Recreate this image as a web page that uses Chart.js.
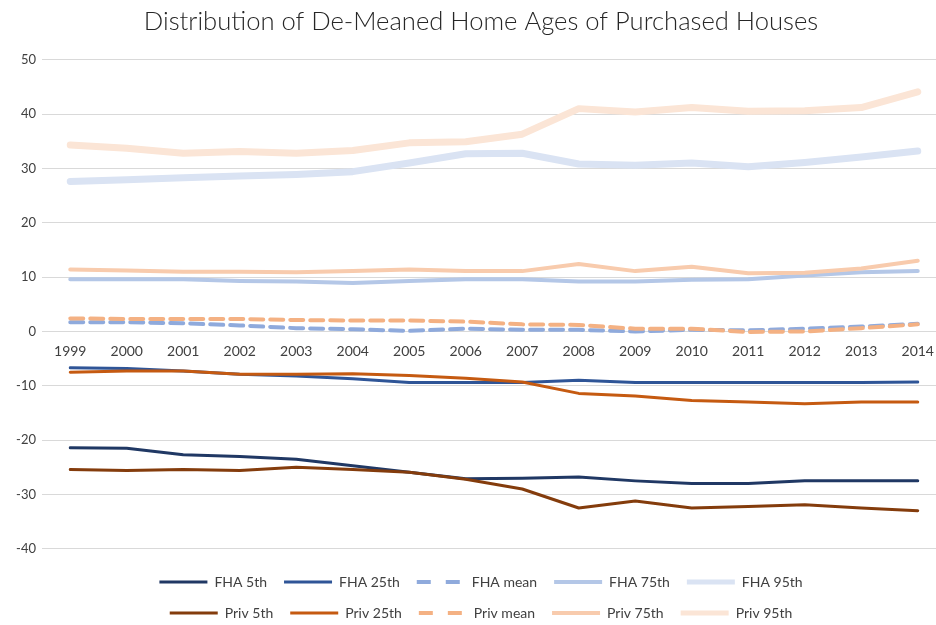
<!DOCTYPE html>
<html>
<head>
<meta charset="utf-8">
<script src="https://cdn.jsdelivr.net/npm/chart.js@4/dist/chart.umd.min.js"></script>
<style>
  html, body { margin: 0; padding: 0; background: #fff; overflow: hidden; }
  #wrap { width: 946px; height: 625px; }
</style>
</head>
<body>
<div id="wrap"><canvas id="grafico" width="946" height="625"></canvas></div>
<script>
const anos = ['1999', '2000', '2001', '2002', '2003', '2004', '2005', '2006', '2007', '2008', '2009', '2010', '2011', '2012', '2013', '2014']

const fha5 = [-21.4, -21.5, -22.7, -23.0, -23.5, -24.7, -25.9, -27.1, -27.0, -26.8, -27.5, -28.0, -28.0, -27.5, -27.5, -27.5]
const fha25 = [-6.7, -6.8, -7.3, -7.9, -8.2, -8.7, -9.4, -9.4, -9.4, -9.0, -9.4, -9.4, -9.4, -9.4, -9.4, -9.3]
const fhaMean = [1.7, 1.7, 1.5, 1.1, 0.6, 0.4, 0.1, 0.5, 0.3, 0.3, 0.0, 0.3, 0.2, 0.5, 0.9, 1.4]
const fha75 = [9.6, 9.6, 9.6, 9.3, 9.2, 8.9, 9.3, 9.6, 9.6, 9.2, 9.2, 9.5, 9.6, 10.3, 10.9, 11.1]
const fha95 = [27.6, 27.9, 28.3, 28.6, 28.9, 29.4, 31.0, 32.7, 32.8, 30.8, 30.6, 31.0, 30.3, 31.1, 32.1, 33.2]

const priv5 = [-25.4, -25.6, -25.4, -25.6, -25.0, -25.4, -25.9, -27.2, -29.0, -32.5, -31.2, -32.5, -32.2, -31.9, -32.5, -33.0]
const priv25 = [-7.5, -7.3, -7.3, -7.9, -7.9, -7.8, -8.1, -8.6, -9.3, -11.4, -11.9, -12.7, -13.0, -13.3, -13.0, -13.0]
const privMean = [2.4, 2.3, 2.3, 2.3, 2.1, 2.0, 2.0, 1.8, 1.3, 1.2, 0.5, 0.5, -0.1, 0.0, 0.6, 1.3]
const priv75 = [11.4, 11.2, 11.0, 11.0, 10.9, 11.1, 11.4, 11.1, 11.1, 12.4, 11.1, 11.9, 10.7, 10.8, 11.6, 13.0]
const priv95 = [34.3, 33.7, 32.8, 33.1, 32.8, 33.3, 34.7, 34.9, 36.3, 41.0, 40.4, 41.2, 40.5, 40.6, 41.2, 44.1]

const series = [
    ['FHA 5th', fha5, '#203864', 3, null],
    ['FHA 25th', fha25, '#2F5597', 3, null],
    ['FHA mean', fhaMean, '#8FAADC', 4, [13, 7]],
    ['FHA 75th', fha75, '#B4C7E7', 4, null],
    ['FHA 95th', fha95, '#DAE3F3', 7, null],
    ['Priv 5th', priv5, '#843C0C', 3, null],
    ['Priv 25th', priv25, '#C55A11', 3, null],
    ['Priv mean', privMean, '#F4B183', 4, [13, 7]],
    ['Priv 75th', priv75, '#F8CBAD', 4, null],
    ['Priv 95th', priv95, '#FBE5D6', 7, null]
]

const fonte = 'Lato, "Open Sans", sans-serif'

const datasets = series.map(([label, data, cor, largura, traco], i) => ({
    label: label,
    data: data,
    borderColor: cor,
    backgroundColor: cor,
    borderWidth: largura,
    borderDash: traco || [],
    borderCapStyle: 'round',
    borderJoinStyle: 'round',
    pointRadius: 0,
    pointHoverRadius: 0,
    tension: 0,
    fill: false,
    order: 10 - i
}))

// legenda em duas linhas de 5 itens (fit e draw com a mesma largura)
const LARGURA_LEGENDA = 720
const larguraLegenda = {
    id: 'larguraLegenda',
    beforeLayout(chart) {
        const lg = chart.legend
        if (!lg || lg._ajustada) return
        const fitOriginal = lg.fit.bind(lg)
        const drawOriginal = lg.draw.bind(lg)
        lg.fit = function () {
            const m = this.maxWidth
            this.maxWidth = Math.min(m, LARGURA_LEGENDA)
            fitOriginal()
            this.maxWidth = m
        }
        lg.draw = function () {
            const l = this.left, r = this.right
            const c = (l + r) / 2
            this.left = c - LARGURA_LEGENDA / 2
            this.right = c + LARGURA_LEGENDA / 2
            drawOriginal()
            this.left = l
            this.right = r
        }
        lg._ajustada = true
    }
}

const ctx = document.getElementById('grafico').getContext('2d')
new Chart(ctx, {
    type: 'line',
    data: { labels: anos, datasets: datasets },
    plugins: [larguraLegenda],
    options: {
        responsive: false,
        animation: false,
        layout: { padding: { left: 16, right: 0, top: 0, bottom: -5 } },
        scales: {
            x: {
                position: { y: 0 },
                offset: true,
                grid: { display: false, drawTicks: false },
                border: { display: false },
                ticks: { color: '#404040', font: { family: fonte, size: 14 }, padding: 12, maxRotation: 0 }
            },
            y: {
                min: -40,
                max: 50,
                grid: { color: '#d9d9d9', drawTicks: false },
                border: { display: false },
                ticks: { stepSize: 10, color: '#404040', font: { family: fonte, size: 13 }, padding: 6 },
                afterFit: (scale) => { scale.width = 26 }
            }
        },
        plugins: {
            title: {
                display: true,
                text: 'Distribution of De-Meaned Home Ages of Purchased Houses',
                color: '#262626',
                font: { family: fonte, size: 25.6, weight: 300 },
                padding: { top: 6, bottom: 23 }
            },
            legend: {
                position: 'bottom',
                title: { display: true, text: ' ', font: { size: 1 }, padding: { top: 0, bottom: 8 } },
                labels: {
                    usePointStyle: true,
                    pointStyle: 'line',
                    pointStyleWidth: 48,
                    padding: 17,
                    color: '#404040',
                    font: { family: fonte, size: 14 },
                    sort: (a, b) => a.datasetIndex - b.datasetIndex,
                    generateLabels: (chart) => {
                        const itens = Chart.defaults.plugins.legend.labels.generateLabels(chart)
                        itens.forEach(item => {
                            const ds = chart.data.datasets[item.datasetIndex]
                            item.lineWidth = Math.min(ds.borderWidth, 5)
                            item.lineDash = ds.borderDash.length ? [14, 15] : []
                            item.lineCap = 'butt'
                            item.strokeStyle = ds.borderColor
                            item.pointStyle = 'line'
                        })
                        return itens
                    }
                }
            },
            tooltip: { enabled: false }
        }
    }
})
</script>
</body>
</html>
